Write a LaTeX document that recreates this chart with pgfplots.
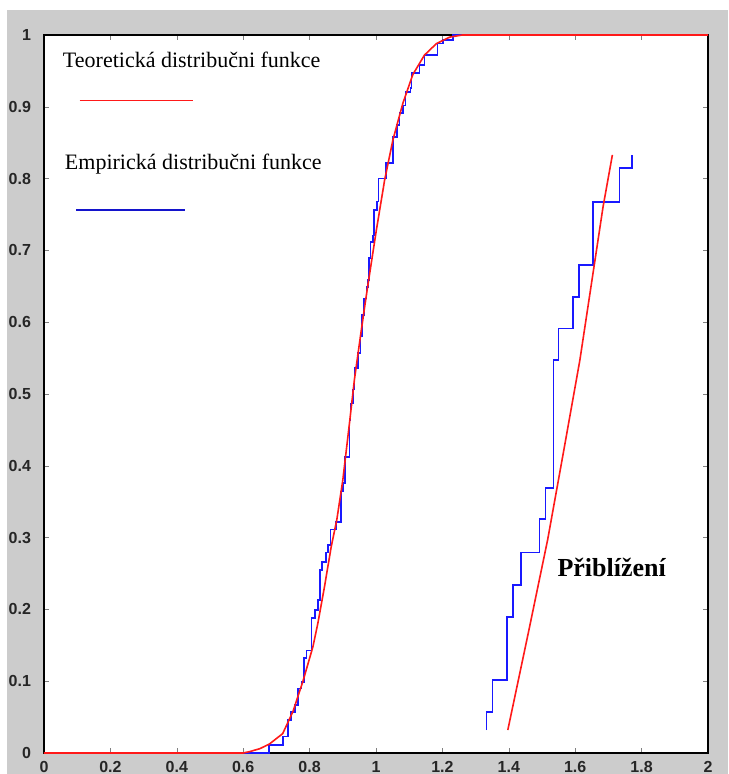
\documentclass[border=0pt]{standalone}
\usepackage{fontspec}
\setmainfont{Liberation Serif}
\newfontfamily\ticksans{Liberation Sans}
\usepackage{pgfplots}
\pgfplotsset{compat=1.18}
\definecolor{bg}{gray}{0.8}
\definecolor{mred}{rgb}{1,0.1,0.1}
\definecolor{mblue}{rgb}{0.1,0.1,1}
\begin{document}
\begin{tikzpicture}
\fill[white] (-22pt,-10.5pt) rectangle (342pt,376.5pt);
\fill[bg] (-18.5pt,-10.5pt) rectangle (342pt,371.5pt);
\useasboundingbox (-22pt,-10.5pt) rectangle (342pt,376.5pt);
\begin{axis}[
  at={(0,0)}, anchor=south west,
  scale only axis, width=332pt, height=359pt,
  xmin=0, xmax=2, ymin=0, ymax=1,
  xtick={0,0.2,0.4,0.6,0.8,1,1.2,1.4,1.6,1.8,2},
  ytick={0,0.1,0.2,0.3,0.4,0.5,0.6,0.7,0.8,0.9,1},
  tick align=inside, major tick length=2.5pt,
  axis background/.style={fill=white},
  axis line style={black, line width=0.6pt},
  /pgf/number format/assume math mode=true,
  tick label style={font=\ticksans\bfseries\fontsize{8}{9}\selectfont, text=black!85},
  xticklabel style={yshift=-0.5pt},
  yticklabel style={xshift=-3pt},
  clip=false,
]
% empirical CDF (main)
\addplot[draw=mblue, line width=0.8pt, const plot, line join=miter] coordinates {
(0,0) (0.677,0.011) (0.7205,0.023) (0.7356,0.046) (0.7434,0.057) (0.7555,0.067)
(0.7657,0.090) (0.7757,0.099) (0.7838,0.132) (0.7908,0.143) (0.8059,0.188)
(0.8158,0.199) (0.8260,0.213) (0.8309,0.255) (0.8369,0.266) (0.8502,0.279)
(0.8550,0.290) (0.8631,0.311) (0.8803,0.322) (0.8954,0.364) (0.9002,0.376)
(0.9075,0.412) (0.9204,0.464) (0.9234,0.487) (0.9304,0.506) (0.9355,0.536)
(0.9454,0.557) (0.9527,0.580) (0.9575,0.610) (0.9635,0.633) (0.9708,0.649)
(0.9756,0.659) (0.9786,0.689) (0.9837,0.712) (0.9907,0.721) (0.9937,0.756)
(1.0027,0.768) (1.0072,0.800) (1.0310,0.822) (1.0510,0.858) (1.0630,0.875)
(1.0712,0.891) (1.0811,0.902) (1.0892,0.921) (1.1034,0.926) (1.1064,0.947)
(1.1315,0.958) (1.1465,0.972) (1.1848,0.988) (1.2017,0.993) (1.2318,1.0) (1.3,1)
};
% theoretical CDF (main)
\addplot[draw=mred, line width=0.8pt] coordinates {
(0,0) (0.6,0.0) (0.62,0.002) (0.65,0.006) (0.679,0.0125) (0.719,0.027)
(0.75,0.058) (0.78,0.1) (0.81,0.148) (0.825,0.181) (0.845,0.232) (0.865,0.287)
(0.882,0.325) (0.90,0.38) (0.92,0.459) (0.935,0.52) (0.953,0.58) (0.966,0.622)
(0.975,0.65) (1.001,0.728) (1.026,0.798) (1.051,0.854) (1.081,0.905)
(1.111,0.945) (1.146,0.972) (1.182,0.988) (1.222,0.997) (1.26,1) (2,1)
};
% zoomed detail: empirical
\addplot[draw=mblue, line width=0.8pt, line join=miter] coordinates {
(1.3334,0.032) (1.3334,0.057) (1.351,0.057) (1.351,0.102) (1.394,0.102)
(1.394,0.189) (1.412,0.189) (1.412,0.234) (1.436,0.234) (1.436,0.279)
(1.493,0.279) (1.493,0.326) (1.511,0.326) (1.511,0.369) (1.535,0.369)
(1.535,0.547) (1.550,0.547) (1.550,0.591) (1.593,0.591) (1.593,0.635)
(1.611,0.635) (1.611,0.680) (1.653,0.680) (1.653,0.767) (1.734,0.767)
(1.734,0.815) (1.771,0.815) (1.771,0.833)
};
% zoomed detail: theoretical
\addplot[draw=mred, line width=0.8pt] coordinates {
(1.397,0.032) (1.46,0.17) (1.517,0.297) (1.565,0.42) (1.614,0.547)
(1.684,0.761) (1.712,0.833)
};
% legend-like annotations
\addplot[draw=mred, line width=0.8pt] coordinates {(0.107,0.909) (0.448,0.909)};
\addplot[draw=mblue!80!black, line width=0.9pt] coordinates {(0.097,0.756) (0.426,0.756)};
\node[anchor=west, font=\fontsize{11}{13}\selectfont, inner sep=0pt] at (axis cs:0.056,0.966) {Teoretická distribučni funkce};
\node[anchor=west, font=\fontsize{11}{13}\selectfont, inner sep=0pt] at (axis cs:0.062,0.820) {Empirická distribučni funkce};
\node[font=\bfseries\fontsize{13}{15}\selectfont, inner sep=0pt] at (axis cs:1.71,0.258) {Přiblížení};
\end{axis}
\end{tikzpicture}
\end{document}
